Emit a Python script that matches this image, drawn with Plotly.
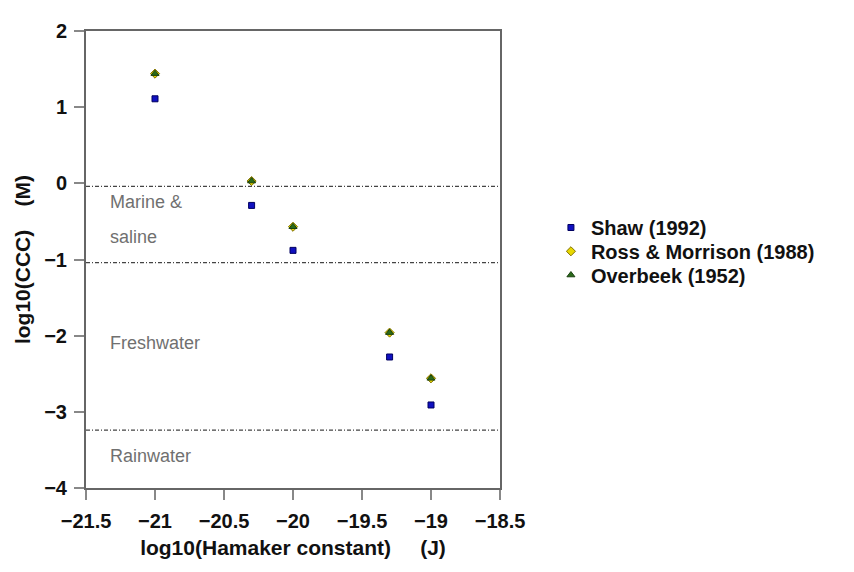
import plotly.graph_objects as go

hamaker = [-21.0, -20.3, -20.0, -19.3, -19.0]
shaw = [1.11, -0.29, -0.88, -2.28, -2.91]
ross = [1.44, 0.03, -0.57, -1.96, -2.56]
overbeek = [1.44, 0.03, -0.57, -1.96, -2.56]

zone_lines = [-0.04, -1.04, -3.24]
zone_labels = ["Marine &", "saline", "Freshwater", "Rainwater"]
zone_label_y = [-0.24, -0.71, -2.10, -3.58]
zone_label_x = -21.34

xticks = [-21.5, -21, -20.5, -20, -19.5, -19, -18.5]
xticklabels = ["−21.5", "−21", "−20.5", "−20", "−19.5", "−19", "−18.5"]
yticks = [-4, -3, -2, -1, 0, 1, 2]
yticklabels = ["−4", "−3", "−2", "−1", "0", "1", "2"]

series_names = ["Shaw (1992)", "Ross & Morrison (1988)", "Overbeek (1952)"]

FONT = "Liberation Sans"
BOLD = dict(family=FONT, color="#111111", weight="bold")

fig = go.Figure()
fig.add_trace(go.Scatter(x=hamaker, y=shaw, mode="markers", name=series_names[0],
                         legend="legend", showlegend=True,
                         marker=dict(symbol="square", size=6, color="#1010c0",
                                     line=dict(color="#000060", width=1))))
fig.add_trace(go.Scatter(x=hamaker, y=ross, mode="markers", name=series_names[1],
                         legend="legend2", showlegend=True,
                         marker=dict(symbol="diamond", size=7, color="#e8d800",
                                     line=dict(color="#807000", width=1))))
fig.add_trace(go.Scatter(x=hamaker, y=overbeek, mode="markers", name=series_names[2],
                         legend="legend3", showlegend=True,
                         marker=dict(symbol="triangle-up", size=7, color="#2a6a1a",
                                     line=dict(color="#1a4010", width=1))))

for yv in zone_lines:
    fig.add_shape(type="line", xref="paper", x0=0, x1=1, yref="y", y0=yv, y1=yv,
                  line=dict(color="#444444", width=1.2, dash="4px,2px,1px,2px"))

for t, yv in zip(zone_labels, zone_label_y):
    fig.add_annotation(x=zone_label_x, y=yv, text=t, showarrow=False, xanchor="left",
                       font=dict(family=FONT, size=18, color="#707070"))

axis_common = dict(showline=True, linecolor="#666666", linewidth=2, mirror=True,
                   ticks="outside", ticklen=10, tickcolor="#888888", tickwidth=1.5,
                   showgrid=False, zeroline=False,
                   tickfont=dict(size=20, **BOLD))

fig.update_xaxes(range=[-21.5, -18.5], tickvals=xticks, ticktext=xticklabels,
                 ticklabelstandoff=4,
                 title=dict(text="log10(Hamaker constant)&nbsp;&nbsp;&nbsp;&nbsp;&nbsp;(J)",
                            font=dict(size=21, **BOLD), standoff=9),
                 **axis_common)
fig.update_yaxes(range=[-4, 2], tickvals=yticks, ticktext=yticklabels,
                 ticklabelstandoff=3,
                 title=dict(text="log10(CCC)&nbsp;&nbsp;&nbsp;&nbsp;(M)",
                            font=dict(size=21, **BOLD), standoff=8),
                 **axis_common)

leg_common = dict(x=1.123, xanchor="left", yanchor="middle", bgcolor="rgba(0,0,0,0)",
                  font=dict(size=20, **BOLD))
fig.update_layout(width=854, height=572, plot_bgcolor="white", paper_bgcolor="white",
                  showlegend=True,
                  margin=dict(l=78, r=362, t=19, b=92),
                  legend=dict(y=0.570, **leg_common),
                  legend2=dict(y=0.518, **leg_common),
                  legend3=dict(y=0.466, **leg_common))

fig.write_html("out.html")
